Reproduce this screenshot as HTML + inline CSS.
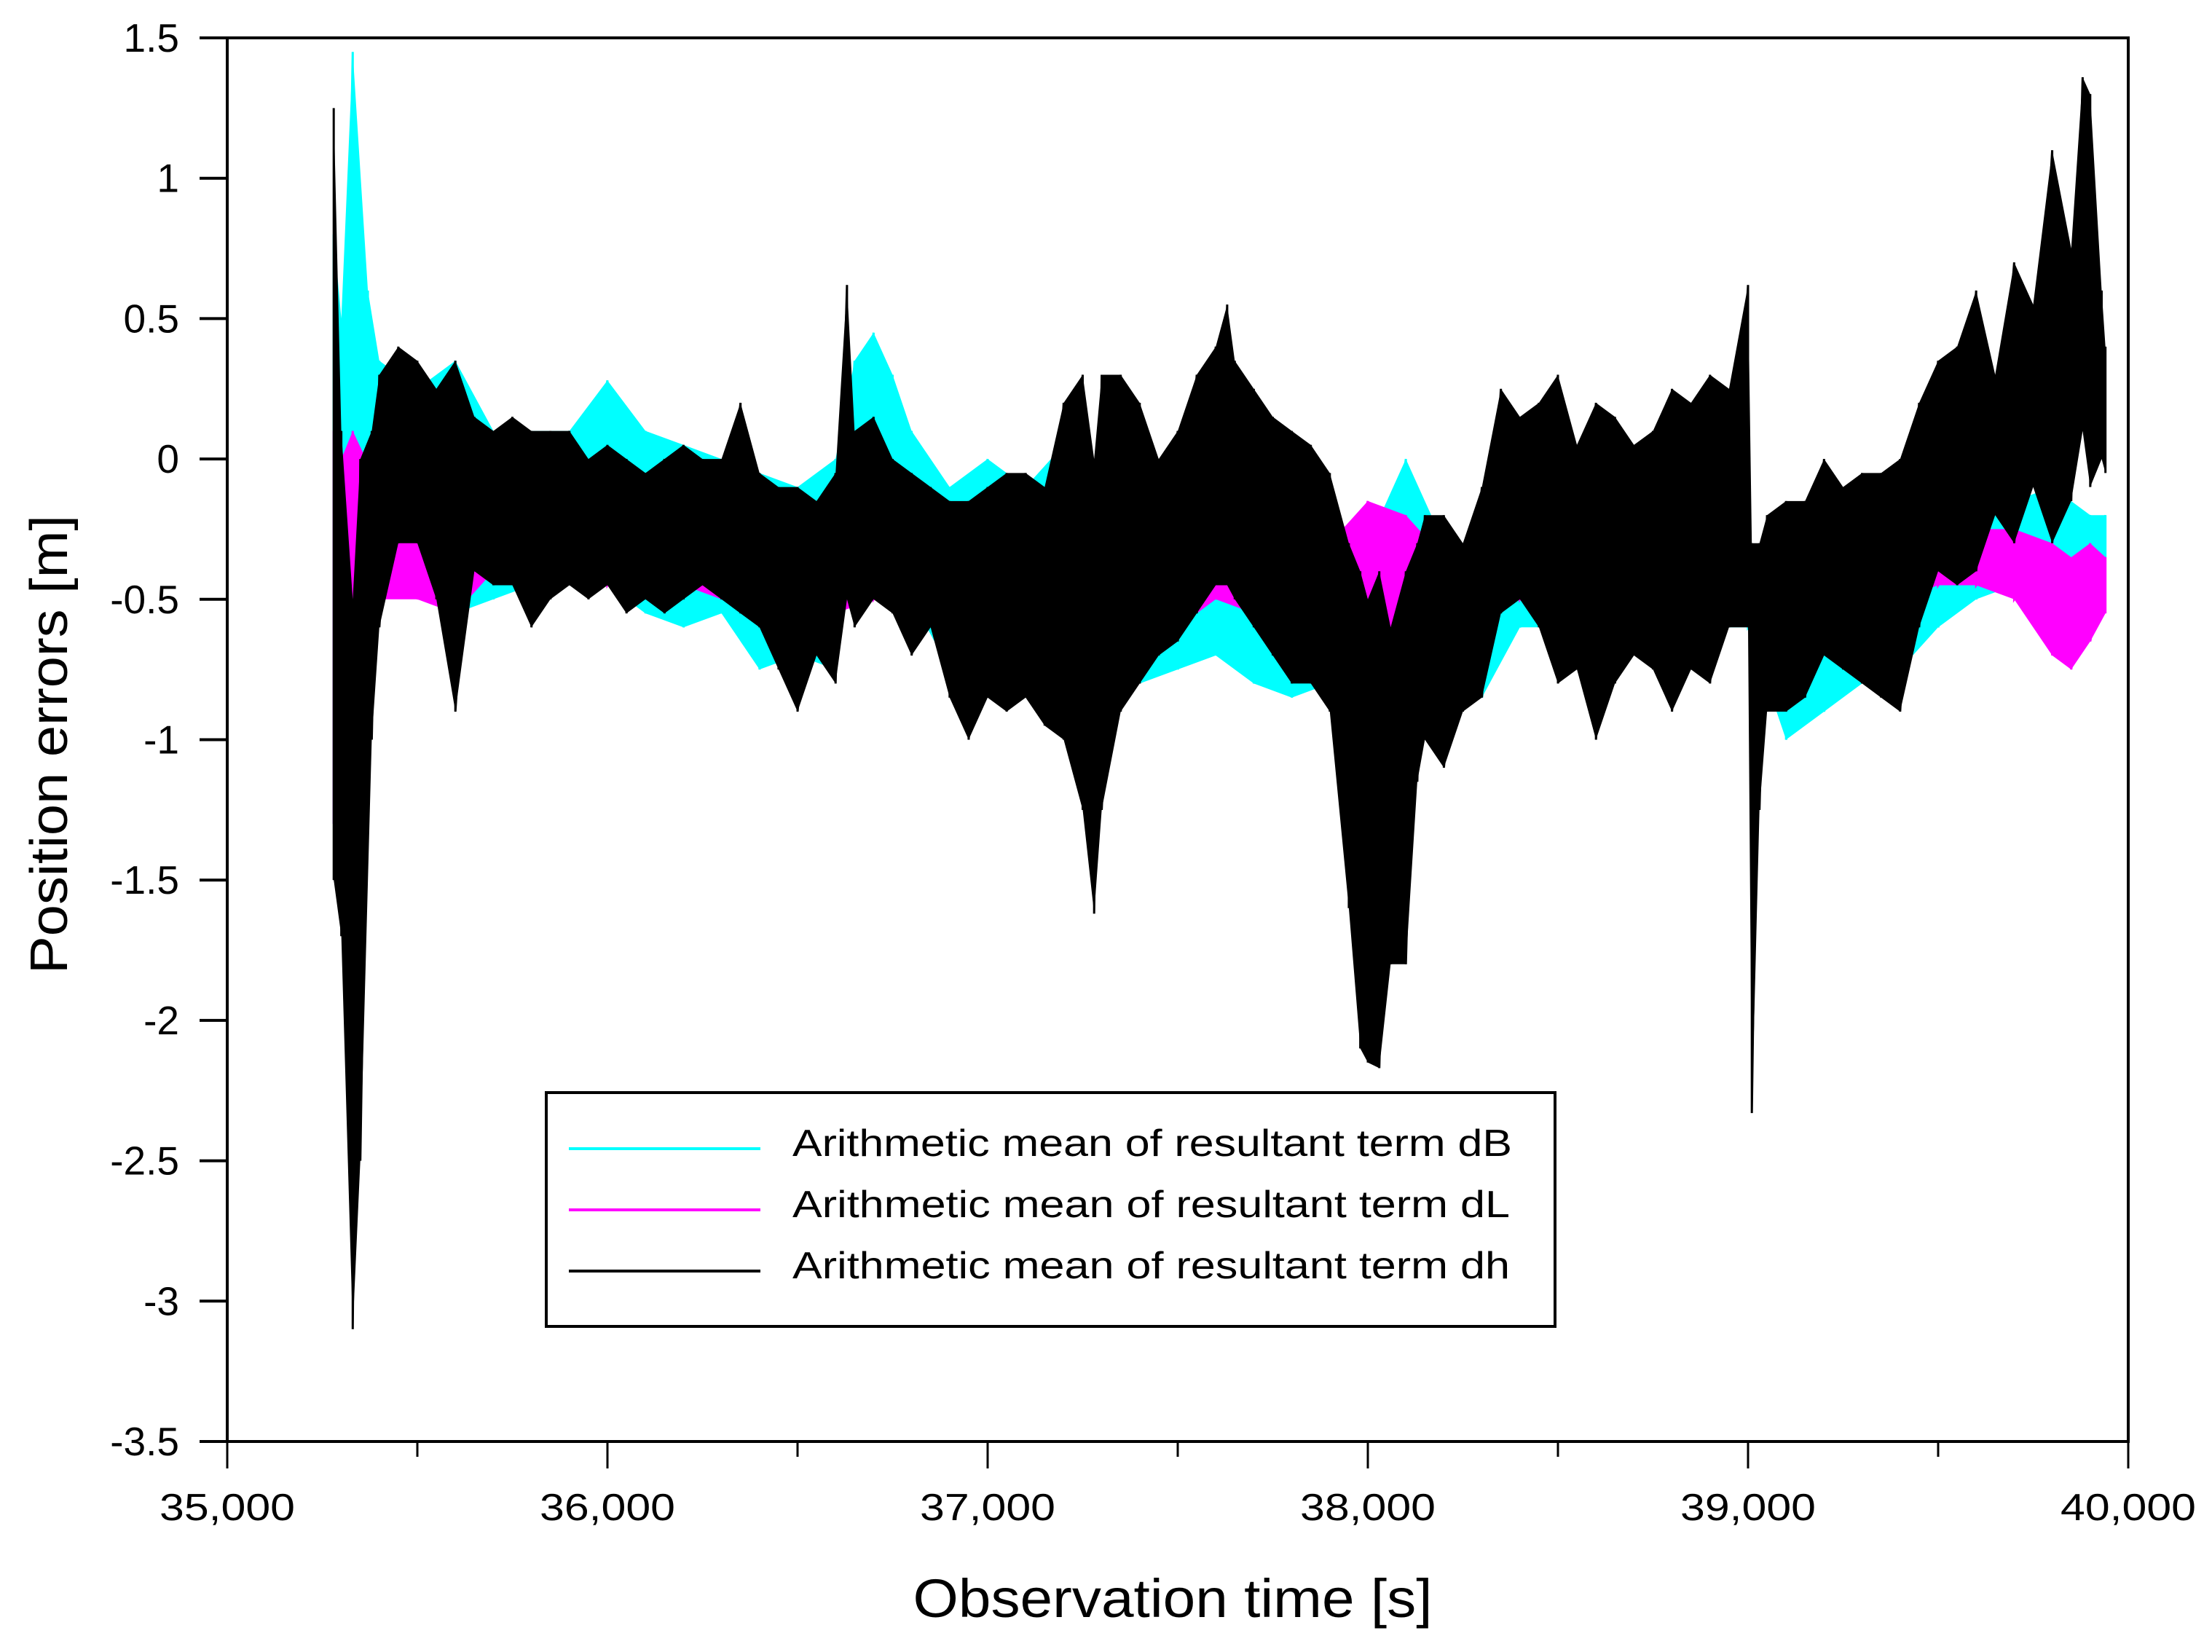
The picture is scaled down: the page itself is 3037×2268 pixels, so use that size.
<!DOCTYPE html>
<html><head><meta charset="utf-8"><style>
html,body{margin:0;padding:0;background:#fff;}
svg{display:block;font-family:"Liberation Sans",Arial,sans-serif;}
</style></head><body>
<svg id="chart" width="3037" height="2268" viewBox="0 0 3037 2268" xmlns="http://www.w3.org/2000/svg">
<rect width="3037" height="2268" fill="#fff"/>
<g id="series"></g>
<g id="axes"></g>
<g id="legend">
  <rect x="750" y="1500" width="1385" height="321" fill="#fff" stroke="#000" stroke-width="4"/>
  <line x1="781" y1="1577" x2="1044" y2="1577" stroke="#00ffff" stroke-width="4"/>
  <text x="1088" y="1587" font-size="52" textLength="988" lengthAdjust="spacingAndGlyphs">Arithmetic mean of resultant term dB</text>
  <line x1="781" y1="1661" x2="1044" y2="1661" stroke="#ff00ff" stroke-width="4"/>
  <text x="1088" y="1671" font-size="52" textLength="985" lengthAdjust="spacingAndGlyphs">Arithmetic mean of resultant term dL</text>
  <line x1="781" y1="1745" x2="1044" y2="1745" stroke="#000" stroke-width="4"/>
  <text x="1088" y="1755" font-size="52" textLength="985" lengthAdjust="spacingAndGlyphs">Arithmetic mean of resultant term dh</text>
</g>
<text x="1610" y="2220" font-size="74" text-anchor="middle" textLength="713" lengthAdjust="spacingAndGlyphs">Observation time [s]</text>
<text transform="translate(92,1022) rotate(-90)" font-size="72" text-anchor="middle" textLength="630" lengthAdjust="spacingAndGlyphs">Position errors [m]</text>
</svg>
<script>
const xTicks = [35000, 36000, 37000, 38000, 39000, 40000];
const xTickLabels = ["35,000", "36,000", "37,000", "38,000", "39,000", "40,000"];
const xMinorTicks = [35500, 36500, 37500, 38500, 39500];
const yTicks = [1.5, 1, 0.5, 0, -0.5, -1, -1.5, -2, -2.5, -3, -3.5];
const yTickLabels = ["1.5", "1", "0.5", "0", "-0.5", "-1", "-1.5", "-2", "-2.5", "-3", "-3.5"];

const dhTime = [35280,35300,35330,35350,35380,35400,35450,35500,35550,35600,35650,35700,35750,35800,35850,35900,35950,36000,36050,36100,36150,36200,36250,36300,36350,36400,36450,36500,36550,36600,36630,36650,36700,36750,36800,36850,36900,36950,37000,37050,37100,37150,37200,37250,37280,37300,37350,37400,37450,37500,37550,37600,37630,37650,37700,37750,37800,37850,37900,37950,37980,38000,38030,38060,38100,38130,38150,38200,38250,38300,38350,38400,38450,38500,38550,38600,38650,38700,38750,38800,38850,38900,38950,39000,39010,39030,39050,39100,39150,39200,39250,39300,39350,39400,39450,39500,39550,39600,39650,39700,39750,39800,39850,39880,39900,39930,39940];
const dhHigh = [1.25,0.1,-0.5,0.0,0.1,0.3,0.4,0.35,0.25,0.35,0.15,0.1,0.15,0.1,0.1,0.1,0.0,0.05,0.0,-0.05,0.0,0.05,0.0,0.0,0.2,-0.05,-0.1,-0.1,-0.15,-0.05,0.62,0.1,0.15,0.0,-0.05,-0.1,-0.15,-0.15,-0.1,-0.05,-0.05,-0.1,0.2,0.3,0.0,0.3,0.3,0.2,0.0,0.1,0.3,0.4,0.55,0.35,0.25,0.15,0.1,0.05,-0.05,-0.3,-0.4,-0.5,-0.4,-0.6,-0.4,-0.3,-0.2,-0.2,-0.3,-0.1,0.25,0.15,0.2,0.3,0.05,0.2,0.15,0.05,0.1,0.25,0.2,0.3,0.25,0.62,-0.3,-0.3,-0.2,-0.15,-0.15,0.0,-0.1,-0.05,-0.05,0.0,0.2,0.35,0.4,0.6,0.3,0.7,0.55,1.1,0.75,1.36,1.3,0.6,0.4];
const dhLow = [-1.5,-1.7,-3.1,-2.5,-1.0,-0.6,-0.3,-0.3,-0.5,-0.9,-0.4,-0.45,-0.45,-0.6,-0.5,-0.45,-0.5,-0.45,-0.55,-0.5,-0.55,-0.5,-0.45,-0.5,-0.55,-0.6,-0.75,-0.9,-0.7,-0.8,-0.5,-0.6,-0.5,-0.55,-0.7,-0.6,-0.85,-1.0,-0.85,-0.9,-0.85,-0.95,-1.0,-1.25,-1.62,-1.25,-0.9,-0.8,-0.7,-0.65,-0.55,-0.45,-0.45,-0.5,-0.6,-0.7,-0.8,-0.8,-0.9,-1.6,-2.1,-2.15,-2.17,-1.8,-1.8,-1.15,-1.0,-1.1,-0.9,-0.85,-0.55,-0.5,-0.6,-0.8,-0.75,-1.0,-0.8,-0.7,-0.75,-0.9,-0.75,-0.8,-0.6,-0.6,-2.33,-1.25,-0.9,-0.9,-0.85,-0.7,-0.75,-0.8,-0.85,-0.9,-0.6,-0.4,-0.45,-0.4,-0.2,-0.3,-0.1,-0.3,-0.15,0.1,-0.1,0.0,-0.05];

const dbTime = [35280,35300,35330,35370,35400,35500,35600,35700,35800,35900,36000,36100,36200,36300,36400,36500,36600,36650,36700,36750,36800,36900,37000,37100,37200,37300,37400,37500,37600,37700,37800,37900,38000,38100,38200,38300,38400,38500,38600,38700,38800,38900,39000,39100,39200,39300,39400,39500,39600,39700,39800,39900,39940];
const dbHigh = [0.8,0.5,1.45,0.6,0.35,0.25,0.35,0.1,0.1,0.1,0.28,0.1,0.05,0.0,-0.05,-0.1,0.0,0.35,0.45,0.3,0.1,-0.1,0.0,-0.1,0.05,-0.1,-0.1,-0.1,-0.2,-0.25,-0.25,-0.3,-0.3,0.0,-0.3,-0.3,-0.2,-0.3,-0.3,-0.3,-0.3,-0.3,-0.3,-0.4,-0.4,-0.3,-0.3,-0.35,-0.1,-0.15,-0.1,-0.2,-0.2];
const dbLow = [-1.3,-0.8,-0.5,-0.2,-0.2,-0.35,-0.55,-0.5,-0.45,-0.45,-0.45,-0.55,-0.6,-0.55,-0.75,-0.7,-0.75,-0.2,-0.25,-0.4,-0.5,-0.75,-0.7,-0.6,-0.55,-0.7,-0.8,-0.75,-0.7,-0.8,-0.85,-0.8,-1.0,-0.9,-0.8,-0.85,-0.6,-0.6,-0.7,-0.65,-0.6,-0.6,-0.6,-1.0,-0.9,-0.8,-0.75,-0.6,-0.5,-0.45,-0.45,-0.45,-0.35];

const dlTime = [35280,35300,35330,35400,35500,35600,35700,35800,35900,36000,36100,36200,36300,36400,36500,36600,36700,36800,36900,37000,37100,37200,37300,37400,37500,37600,37700,37800,37900,38000,38100,38200,38300,38400,38500,38600,38700,38800,38900,39000,39100,39200,39300,39400,39500,39600,39700,39800,39850,39900,39940];
const dlHigh = [0.1,0.0,0.1,-0.1,-0.15,-0.2,-0.2,-0.25,-0.25,-0.25,-0.25,-0.25,-0.3,-0.2,-0.3,-0.3,-0.3,-0.3,-0.3,-0.3,-0.3,-0.25,-0.3,-0.3,-0.3,-0.2,-0.25,-0.3,-0.3,-0.15,-0.2,-0.35,-0.3,-0.3,-0.3,-0.3,-0.3,-0.35,-0.35,-0.3,-0.4,-0.35,-0.35,-0.35,-0.35,-0.25,-0.25,-0.3,-0.35,-0.3,-0.35];
const dlLow = [-1.3,-0.8,-0.6,-0.5,-0.5,-0.55,-0.4,-0.45,-0.4,-0.45,-0.45,-0.45,-0.5,-0.45,-0.45,-0.55,-0.5,-0.55,-0.5,-0.55,-0.55,-0.55,-0.5,-0.65,-0.6,-0.5,-0.55,-0.6,-0.65,-0.8,-0.8,-0.6,-0.5,-0.5,-0.55,-0.5,-0.5,-0.5,-0.55,-0.55,-0.6,-0.55,-0.55,-0.5,-0.45,-0.45,-0.5,-0.7,-0.75,-0.65,-0.55];

const NS = "http://www.w3.org/2000/svg";
const X0 = 312, X1 = 2922, Y0 = 52, Y1 = 1979;
function xs(t){ return X0 + (t - 35000) / 5000 * (X1 - X0); }
function ys(v){ return Y0 + (1.5 - v) / 5 * (Y1 - Y0); }

const seriesG = document.getElementById('series');
function drawSeries(name, times, hi, lo, color){
  const g = document.createElementNS(NS, 'g');
  
  
  let pts = [];
  for (let i = 0; i < times.length; i++) pts.push(xs(times[i]).toFixed(1) + ',' + ys(hi[i]).toFixed(1));
  for (let i = times.length - 1; i >= 0; i--) pts.push(xs(times[i]).toFixed(1) + ',' + ys(lo[i]).toFixed(1));
  const poly = document.createElementNS(NS, 'polygon');
  poly.setAttribute('points', pts.join(' '));
  poly.setAttribute('fill', color);
  
  
  g.appendChild(poly);
  let zp = [];
  for (let i = 0; i < times.length; i++) {
    zp.push(xs(times[i]).toFixed(1) + ',' + ys(hi[i]).toFixed(1));
    zp.push(xs(times[i]).toFixed(1) + ',' + ys(lo[i]).toFixed(1));
  }
  const pl = document.createElementNS(NS, 'polyline');
  pl.setAttribute('points', zp.join(' '));
  pl.setAttribute('fill', 'none');
  pl.setAttribute('stroke', color);
  pl.setAttribute('stroke-width', '3');
  
  
  g.appendChild(pl);
  seriesG.appendChild(g);
}
drawSeries('series-db', dbTime, dbHigh, dbLow, '#00ffff');
drawSeries('series-dl', dlTime, dlHigh, dlLow, '#ff00ff');
drawSeries('series-dh', dhTime, dhHigh, dhLow, '#000000');

const axes = document.getElementById('axes');
function mk(tag, attrs){
  const e = document.createElementNS(NS, tag);
  for (const k in attrs) e.setAttribute(k, attrs[k]);
  return e;
}
const frame = mk('rect', {x: X0, y: Y0, width: X1 - X0, height: Y1 - Y0, fill: 'none', stroke: '#000', 'stroke-width': 4});


axes.appendChild(frame);

xTicks.forEach((t, i) => {
  const ln = mk('line', {x1: xs(t), y1: Y1, x2: xs(t), y2: Y1 + 37, stroke: '#000', 'stroke-width': 3});
  
  
  axes.appendChild(ln);
  const tx = mk('text', {x: xs(t), y: 2087, 'font-size': 52, 'text-anchor': 'middle', textLength: 186, lengthAdjust: 'spacingAndGlyphs'});
  tx.textContent = xTickLabels[i];
  
  
  axes.appendChild(tx);
});
xMinorTicks.forEach(t => {
  const ln = mk('line', {x1: xs(t), y1: Y1, x2: xs(t), y2: Y1 + 21, stroke: '#000', 'stroke-width': 3});
  
  
  axes.appendChild(ln);
});
yTicks.forEach((v, i) => {
  const ln = mk('line', {x1: X0 - 38, y1: ys(v), x2: X0, y2: ys(v), stroke: '#000', 'stroke-width': 4});
  
  
  axes.appendChild(ln);
  const tx = mk('text', {x: 246, y: ys(v) + 19, 'font-size': 55, 'text-anchor': 'end'});
  tx.textContent = yTickLabels[i];
  
  
  axes.appendChild(tx);
});
</script>
</body></html>
